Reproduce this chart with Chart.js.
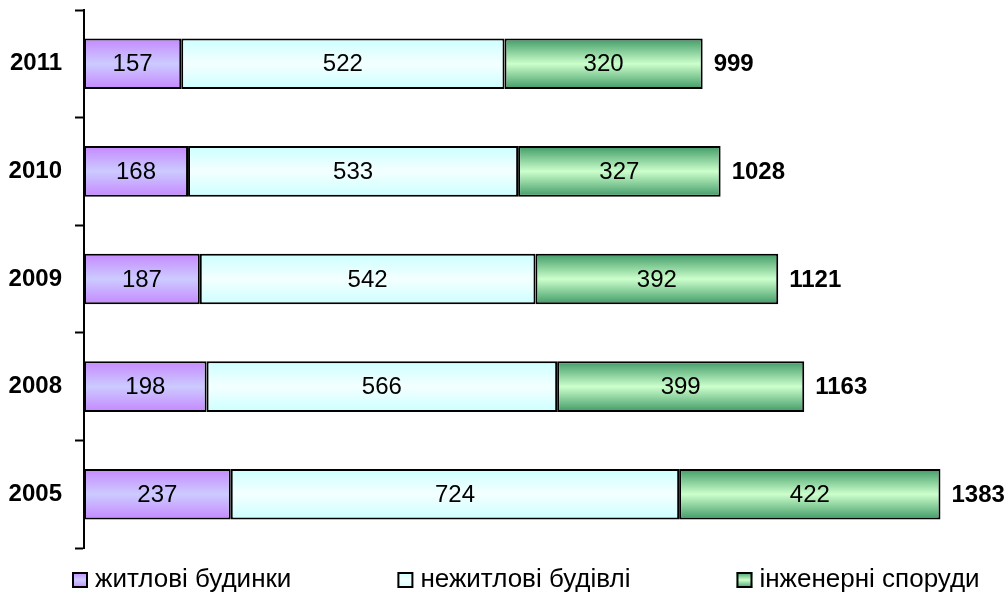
<!DOCTYPE html>
<html>
<head>
<meta charset="utf-8">
<script src="https://cdn.jsdelivr.net/npm/chart.js@4/dist/chart.umd.min.js"></script>
<style>
html,body{margin:0;padding:0;background:#fff;}
#wrap{width:1007px;height:599px;position:relative;}
</style>
</head>
<body>
<div id="wrap"><canvas id="c" width="1007" height="599"></canvas></div>
<script>
const years = ['2011', '2010', '2009', '2008', '2005'];
const residential = [157, 168, 187, 198, 237];
const nonResidential = [522, 533, 542, 566, 724];
const engineering = [320, 327, 392, 399, 422];
const totals = [999, 1028, 1121, 1163, 1383];
const seriesNames = ['житлові будинки', 'нежитлові будівлі', 'інженерні споруди'];

const FONT = '"Liberation Sans", Arial, sans-serif';
const BAR_FRACTION = 0.47;

const gradStops = [
  ['#c588ff', '#cccbff', '#c588ff'],
  ['#ccffff', '#f4ffff', '#ccffff'],
  ['#3f9a66', '#ccffcc', '#3f9a66']
];

function makeGrad(ctx, y0, y1, stops) {
  const g = ctx.createLinearGradient(0, y0, 0, y1);
  g.addColorStop(0, stops[0]);
  g.addColorStop(0.5, stops[1]);
  g.addColorStop(1, stops[2]);
  return g;
}

function barBg(idx) {
  return function(context) {
    const chart = context.chart;
    if (!chart.chartArea || !chart.scales.y) return gradStops[idx][1];
    const ys = chart.scales.y;
    const yc = ys.getPixelForValue(context.dataIndex);
    const band = (ys.bottom - ys.top) / years.length;
    const h = band * BAR_FRACTION / 2;
    return makeGrad(chart.ctx, yc - h, yc + h, gradStops[idx]);
  };
}

const labelsPlugin = {
  id: 'labelsPlugin',
  afterDatasetsDraw(chart) {
    const ctx = chart.ctx;
    ctx.save();
    ctx.fillStyle = '#000';
    ctx.textBaseline = 'middle';
    chart.data.datasets.forEach((ds, di) => {
      const meta = chart.getDatasetMeta(di);
      meta.data.forEach((el, i) => {
        ctx.font = '24px ' + FONT;
        ctx.textAlign = 'center';
        ctx.fillText(String(ds.data[i]), (el.x + el.base) / 2, el.y + 1);
        if (di === chart.data.datasets.length - 1) {
          ctx.font = 'bold 24px ' + FONT;
          ctx.textAlign = 'left';
          ctx.fillText(String(totals[i]), el.x + 11, el.y + 1);
        }
      });
    });
    ctx.restore();
  }
};

const legendPlugin = {
  id: 'customLegend',
  afterDraw(chart) {
    const ctx = chart.ctx;
    ctx.save();
    ctx.font = '26px ' + FONT;
    ctx.textBaseline = 'middle';
    ctx.textAlign = 'left';
    let x = 72;
    const yc = 580;
    const box = 16;
    chart.data.datasets.forEach((ds, di) => {
      ctx.fillStyle = makeGrad(ctx, yc - box / 2, yc + box / 2, gradStops[di]);
      ctx.fillRect(x, yc - box / 2, box, box);
      ctx.lineWidth = 2;
      ctx.strokeStyle = '#000';
      ctx.strokeRect(x + 1, yc - box / 2 + 1, box - 2, box - 2);
      ctx.fillStyle = '#000';
      ctx.fillText(ds.label, x + box + 7, yc);
      const w = ctx.measureText(ds.label).width;
      x += box + 7 + w + 106;
    });
    ctx.restore();
  }
};

const datasets = [residential, nonResidential, engineering].map((arr, i) => ({
  label: seriesNames[i],
  data: arr,
  backgroundColor: barBg(i),
  borderColor: '#000',
  borderWidth: 2,
  borderSkipped: false,
  categoryPercentage: 1,
  barPercentage: BAR_FRACTION
}));

new Chart(document.getElementById('c'), {
  type: 'bar',
  data: { labels: years, datasets },
  options: {
    indexAxis: 'y',
    responsive: false,
    animation: false,
    layout: { padding: { top: 10, bottom: 51, right: 56, left: 0 } },
    plugins: {
      legend: { display: false },
      tooltip: { enabled: false }
    },
    scales: {
      x: { stacked: true, display: false, min: 0, max: 1400 },
      y: {
        stacked: true,
        offset: true,
        afterFit(scale) { scale.width = 84; scale.paddingTop = 0; scale.paddingBottom = 0; },
        grid: {
          offset: true,
          drawOnChartArea: false,
          drawTicks: true,
          tickLength: 9,
          tickWidth: 2,
          tickColor: '#000'
        },
        border: { display: true, color: '#000', width: 2 },
        ticks: {
          color: '#000',
          padding: 13,
          font: { family: FONT, size: 24, weight: 'bold' }
        }
      }
    }
  },
  plugins: [labelsPlugin, legendPlugin]
});
</script>
</body>
</html>
